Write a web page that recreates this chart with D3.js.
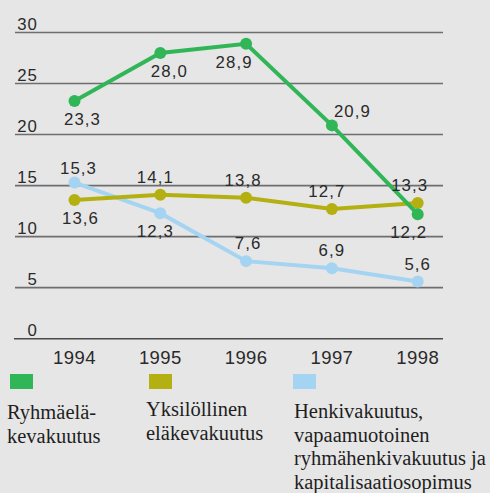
<!DOCTYPE html>
<html>
<head>
<meta charset="utf-8">
<script src="https://cdn.jsdelivr.net/npm/d3@7"></script>
<style>
  html, body { margin: 0; padding: 0; background: #e6e6e6; }
  svg { display: block; }
</style>
</head>
<body>
<svg id="chart"></svg>
<script>
var years = [1994, 1995, 1996, 1997, 1998];
var ryhmaValues = [23.3, 28.0, 28.9, 20.9, 12.2];
var yksilValues = [13.6, 14.1, 13.8, 12.7, 13.3];
var henkiValues = [15.3, 12.3, 7.6, 6.9, 5.6];
var yTicks = [0, 5, 10, 15, 20, 25, 30];
var seriesNames = [
    ['Ryhmäelä-', 'kevakuutus'],
    ['Yksilöllinen', 'eläkevakuutus'],
    ['Henkivakuutus,', 'vapaamuotoinen', 'ryhmähenkivakuutus ja', 'kapitalisaatiosopimus']
];

// where each value label sits relative to its point
var ryhmaLabelPos = ['below', 'below', 'below', 'right', 'below'];
var yksilLabelPos = ['below', 'above', 'above', 'above', 'above'];
var henkiLabelPos = ['above', 'below', 'above', 'above', 'above'];
var ryhmaLabelDx = [8, 9, -12, 2, -9];
var yksilLabelDx = [6, -5, -3, -5, -8];
var henkiLabelDx = [4, -5, 2, 0, 0];

var width = 490, height = 493;
var colors = ['#31b657', '#b4b012', '#a5d4f3'];
var sans = 'Liberation Sans, Arial, Helvetica, sans-serif';

var svg = d3.select('#chart')
    .attr('width', width)
    .attr('height', height);

var x = d3.scalePoint()
    .domain(years)
    .range([74.5, 417.7]);

var y = d3.scaleLinear()
    .domain([0, 30])
    .range([338.7, 32.5]);

// gridlines
svg.append('g').selectAll('line')
    .data(yTicks)
    .enter().append('line')
    .attr('x1', function(d) { return d === 0 ? 14 : 15; })
    .attr('x2', 443)
    .attr('y1', function(d) { return y(d); })
    .attr('y2', function(d) { return y(d); })
    .attr('stroke', function(d) { return d === 0 ? '#4a4a4a' : '#6e6e6e'; })
    .attr('stroke-width', 1.6);

// y tick labels
svg.append('g').selectAll('text')
    .data(yTicks)
    .enter().append('text')
    .attr('x', 38)
    .attr('y', function(d) { return y(d) - 3; })
    .attr('text-anchor', 'end')
    .attr('font-family', sans)
    .attr('font-size', 16.8)
    .attr('letter-spacing', 1.1)
    .attr('fill', '#2a2a2a')
    .text(function(d) { return d; });

// x axis labels
svg.append('g').selectAll('text')
    .data(years)
    .enter().append('text')
    .attr('x', function(d) { return x(d); })
    .attr('y', 364.3)
    .attr('text-anchor', 'middle')
    .attr('font-family', sans)
    .attr('font-size', 18.5)
    .attr('letter-spacing', 0.4)
    .attr('fill', '#2a2a2a')
    .text(function(d) { return d; });

var series = [
    { values: ryhmaValues, pos: ryhmaLabelPos, dx: ryhmaLabelDx, color: colors[0] },
    { values: yksilValues, pos: yksilLabelPos, dx: yksilLabelDx, color: colors[1] },
    { values: henkiValues, pos: henkiLabelPos, dx: henkiLabelDx, color: colors[2] }
];

var line = d3.line()
    .x(function(d) { return x(d.year); })
    .y(function(d) { return y(d.value); });

function fmt(v) {
    return v.toFixed(1).replace('.', ',');
}

function points(s) {
    return years.map(function(yr, j) {
        return { year: yr, value: s.values[j], pos: s.pos[j], dx: s.dx[j] };
    });
}

// draw back to front so the green line sits on top
[2, 1, 0].forEach(function(i) {
    var s = series[i];
    var pts = points(s);
    var g = svg.append('g');

    g.append('path')
        .datum(pts)
        .attr('d', line)
        .attr('fill', 'none')
        .attr('stroke', s.color)
        .attr('stroke-width', 4);

    g.selectAll('circle')
        .data(pts)
        .enter().append('circle')
        .attr('cx', function(d) { return x(d.year); })
        .attr('cy', function(d) { return y(d.value); })
        .attr('r', 6)
        .attr('fill', s.color);
});

// value labels on top
series.forEach(function(s) {
    svg.append('g').selectAll('text')
        .data(points(s))
        .enter().append('text')
        .attr('x', function(d) { return x(d.year) + d.dx; })
        .attr('y', function(d) {
            var py = y(d.value);
            if (d.pos === 'below') return py + 24;
            if (d.pos === 'right') return py - 8;
            return d.year === 1994 ? py - 9 : py - 12;
        })
        .attr('text-anchor', function(d) { return d.pos === 'right' ? 'start' : 'middle'; })
        .attr('font-family', sans)
        .attr('font-size', 16.8)
        .attr('letter-spacing', 1.1)
        .attr('fill', '#2a2a2a')
        .text(function(d) { return fmt(d.value); });
});

// legend
var legendX = [10, 149, 293];
var textX = [7, 146, 294];
var legendBase = [419, 416, 418];
var legendStep = [24.2, 24.2, 23.5];
var legend = svg.append('g');
seriesNames.forEach(function(lines, i) {
    legend.append('rect')
        .attr('x', legendX[i])
        .attr('y', 374)
        .attr('width', 23)
        .attr('height', 15)
        .attr('fill', colors[i]);
    var t = legend.append('text')
        .attr('font-family', 'Liberation Serif, Times New Roman, serif')
        .attr('font-size', 20.5)
        .attr('fill', '#1e1e1e');
    lines.forEach(function(l, k) {
        t.append('tspan')
            .attr('x', textX[i])
            .attr('y', legendBase[i] + k * legendStep[i])
            .text(l);
    });
});
</script>
</body>
</html>
